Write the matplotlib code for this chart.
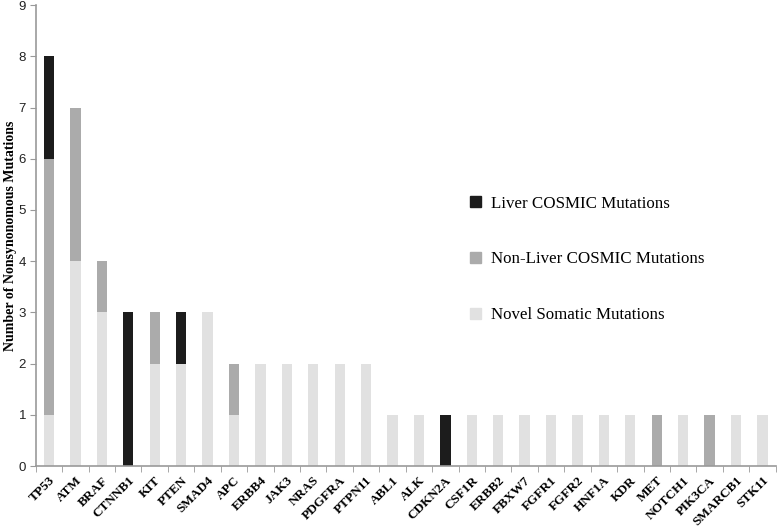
import matplotlib

matplotlib.use("Agg")
import matplotlib.pyplot as plt
import numpy as np
from matplotlib.patches import Patch

# ── Data ───────────────────────────────────────────────────────────────

genes = [
    "TP53", "ATM", "BRAF", "CTNNB1", "KIT", "PTEN", "SMAD4", "APC",
    "ERBB4", "JAK3", "NRAS", "PDGFRA", "PTPN11", "ABL1", "ALK", "CDKN2A",
    "CSF1R", "ERBB2", "FBXW7", "FGFR1", "FGFR2", "HNF1A", "KDR", "MET",
    "NOTCH1", "PIK3CA", "SMARCB1", "STK11",
]
novel = [1, 4, 3, 0, 2, 2, 3, 1, 2, 2, 2, 2, 2, 1, 1, 0,
         1, 1, 1, 1, 1, 1, 1, 0, 1, 0, 1, 1]
non_liver = [5, 3, 1, 0, 1, 0, 0, 1, 0, 0, 0, 0, 0, 0, 0, 0,
             0, 0, 0, 0, 0, 0, 0, 1, 0, 1, 0, 0]
liver = [2, 0, 0, 3, 0, 1, 0, 0, 0, 0, 0, 0, 0, 0, 0, 1,
         0, 0, 0, 0, 0, 0, 0, 0, 0, 0, 0, 0]

COLORS = {"liver": "#1c1c1c", "non_liver": "#ababab", "novel": "#e1e1e1"}
SERIF = ["Liberation Serif", "DejaVu Serif"]
SANS = ["Liberation Sans", "DejaVu Sans"]

# ── Plot ───────────────────────────────────────────────────────────────

fig = plt.figure(figsize=(7.78, 5.28), dpi=100)
ax = fig.add_axes([0.046, 0.117, 0.951, 0.8735])

x = np.arange(len(genes))
w = 0.39
novel = np.array(novel)
non_liver = np.array(non_liver)
liver = np.array(liver)

ax.bar(x, novel, w, color=COLORS["novel"], linewidth=0)
ax.bar(x, non_liver, w, bottom=novel, color=COLORS["non_liver"], linewidth=0)
ax.bar(x, liver, w, bottom=novel + non_liver, color=COLORS["liver"], linewidth=0)

ax.set_xlim(-0.5, len(genes) - 0.5)
ax.set_ylim(0, 9)
ax.set_yticks(range(10))
ax.set_yticklabels([str(i) for i in range(10)], family=SANS, fontsize=9.5,
                   color="#222222")

ax.set_xticks(x)
ax.set_xticklabels(genes, rotation=45, ha="right", rotation_mode="anchor",
                   family=SERIF, fontweight="bold", fontsize=9.5)
ax.set_xticks(np.arange(len(genes) + 1) - 0.5, minor=True)
ax.tick_params(axis="x", which="major", length=0, pad=6)
ax.tick_params(axis="x", which="minor", length=4, color="#999999", direction="out")
ax.tick_params(axis="y", length=4, color="#999999", direction="out", pad=3)

for side in ["top", "right"]:
    ax.spines[side].set_visible(False)
for side in ["left", "bottom"]:
    ax.spines[side].set_color("#999999")
    ax.spines[side].set_linewidth(1.2)

ax.set_ylabel("Number of Nonsynonomous Mutations", family=SERIF,
              fontweight="bold", fontsize=10)
ax.yaxis.set_label_coords(-0.025, 0.5)

handles = [
    Patch(color=COLORS["liver"], label="Liver COSMIC Mutations"),
    Patch(color=COLORS["non_liver"], label="Non-Liver COSMIC Mutations"),
    Patch(color=COLORS["novel"], label="Novel Somatic Mutations"),
]
ax.legend(handles=handles, loc="upper left", bbox_to_anchor=(0.566, 0.62),
          frameon=False, prop={"family": SERIF, "size": 12.2},
          handlelength=0.65, handleheight=0.65, handletextpad=0.6,
          labelspacing=2.35)

plt.savefig("out.png", dpi=100)
